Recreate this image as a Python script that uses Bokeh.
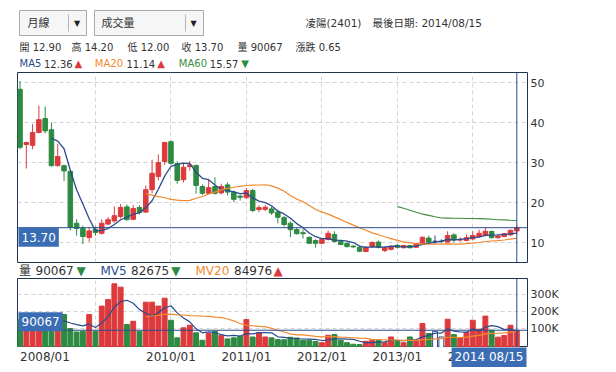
from bokeh.plotting import figure
from bokeh.layouts import column
from bokeh.models import Range1d, FixedTicker, Span, Label, ColumnDataSource
from bokeh.core.properties import value
from bokeh.embed import file_html
from bokeh.resources import INLINE

# ---------------- data (monthly candles 2008/01 .. 2014/08) ----------------
opens = [48.3, 34.5, 34.3, 37.5, 41.0, 38.2, 29.2, 29.2, 27.8, 14.8,
         13.5, 11.25, 13.3, 12.3, 14.6, 15.4, 16.5, 18.9, 15.8, 18.75,
         17.6, 23.2, 26.5, 30.25, 35.2, 29.7, 25.7, 29.0, 29.25, 24.0,
         22.3, 24.0, 22.4, 24.4, 22.6, 21.6, 21.2, 23.0, 18.25, 18.3,
         18.4, 17.6, 16.2, 14.8, 13.25, 12.45, 11.3, 10.5, 9.8, 10.75,
         12.0, 10.3, 9.8, 9.1, 8.8, 7.75, 9.0, 10.1, 8.0, 8.3,
         9.3, 8.7, 9.25, 8.8, 9.7, 11.1, 10.3, 10.3, 10.1, 11.9,
         10.6, 10.5, 10.9, 11.5, 11.75, 12.75, 11.2, 11.5, 11.9, 12.90]
highs = [50.4, 35.2, 39.6, 44.2, 44.0, 40.0, 34.6, 29.5, 28.0, 15.8,
         14.2, 13.75, 14.0, 15.8, 16.4, 19.0, 19.6, 19.5, 19.3, 19.3,
         24.25, 30.7, 32.0, 35.2, 35.5, 30.3, 30.0, 30.4, 29.5, 24.5,
         25.7, 26.3, 24.7, 25.0, 23.0, 22.0, 23.6, 23.4, 19.3, 19.4,
         19.0, 18.2, 16.6, 15.3, 13.7, 13.3, 11.5, 10.8, 11.0, 13.0,
         12.8, 10.6, 10.0, 9.3, 9.0, 9.0, 10.3, 10.5, 9.0, 9.3,
         9.6, 9.4, 9.4, 9.9, 11.5, 11.7, 11.75, 10.8, 12.8, 12.3,
         11.3, 12.0, 12.8, 13.2, 13.7, 13.0, 11.8, 12.4, 13.2, 14.20]
lows = [33.3, 28.5, 33.3, 37.3, 37.3, 29.0, 29.0, 25.4, 13.0, 11.7,
        9.6, 10.2, 11.7, 12.0, 14.4, 15.0, 16.0, 15.5, 15.6, 17.0,
        17.4, 22.3, 25.5, 29.4, 29.5, 24.7, 25.0, 28.0, 22.2, 21.9,
        22.0, 22.0, 22.0, 21.75, 20.1, 20.5, 21.0, 17.6, 17.6, 17.8,
        16.9, 14.8, 14.0, 11.3, 12.0, 11.0, 9.6, 8.7, 9.6, 10.5,
        10.0, 9.3, 8.7, 8.7, 7.6, 7.6, 8.8, 8.5, 7.6, 8.0,
        8.5, 8.5, 8.5, 8.6, 9.5, 9.8, 9.7, 9.8, 10.0, 10.1,
        10.2, 10.3, 10.6, 11.3, 11.5, 11.0, 10.9, 11.3, 11.7, 12.00]
closes = [33.8, 35.0, 37.5, 40.7, 37.9, 29.2, 31.5, 27.9, 13.8, 13.5,
          11.5, 12.9, 12.5, 14.8, 15.7, 16.7, 18.75, 15.7, 18.5, 17.5,
          23.2, 27.3, 30.0, 35.0, 29.8, 25.5, 28.8, 29.4, 24.25, 22.3,
          23.7, 22.3, 24.0, 22.6, 20.8, 21.3, 23.0, 18.0, 18.7, 18.8,
          17.4, 16.3, 14.5, 13.2, 12.2, 12.2, 9.8, 9.8, 10.75, 12.3,
          10.25, 9.5, 9.0, 8.9, 7.8, 8.8, 10.0, 8.8, 8.7, 9.0,
          8.8, 9.25, 8.7, 9.7, 11.3, 10.1, 10.3, 10.3, 11.75, 10.7,
          10.8, 11.2, 11.75, 12.3, 12.8, 11.2, 11.6, 12.2, 13.05, 13.70]
volumes = [150000, 150000, 150000, 160000, 130000, 120000, 130000, 181000, 100000, 80000,
           84000, 181000, 84000, 230000, 268000, 359000, 340000, 123000, 142000, 84000,
           253000, 253000, 230000, 276000, 148000, 46000, 104000, 119000, 75000, 32000,
           71000, 84000, 59000, 40000, 46000, 55000, 152000, 51000, 75000, 51000,
           46000, 36000, 35000, 49000, 45000, 32000, 32000, 25000, 18000, 61000,
           65000, 32000, 18000, 9000, 7000, 26000, 32000, 32000, 18000, 51000,
           26000, 18000, 51000, 32000, 129000, 71000, 84000, 51000, 154000, 65000,
           46000, 77000, 148000, 96000, 172000, 90000, 50000, 60000, 119000, 90067]

date_ticks = [0, 24, 36, 48, 60, 72]
date_labels = ["2008/01", "2010/01", "2011/01", "2012/01", "2013/01", "2014/01"]
year_ticks = [12, 24, 36, 48, 60, 72]
cursor_date = "2014 08/15"
stock_name = "凌陽(2401)"
last_date = "最後日期: 2014/08/15"
period_name = "月線"
indicator_name = "成交量"
price_ticks = [10, 20, 30, 40, 50]
volume_ticks = [100000, 200000, 300000]
volume_tick_labels = ["100K", "200K", "300K"]
ma_names = ["MA5", "MA20", "MA60"]
ma_periods = [5, 20, 60]
ma_last = [12.36, 11.14, 15.57]
ma_arrows = ["▲", "▲", "▼"]
mv_names = ["MV5", "MV20"]
mv_periods = [5, 20]
mv_last = [82675, 84976]
mv_arrows = ["▼", "▲"]
vol_arrow = "▼"

# ---------------- styles ----------------
FONT = "DejaVu Sans, Noto Sans CJK TC"
RED = "#dd3a3d"
GREEN = "#2e8a42"
NAVY = "#2a4c8e"
ORANGE = "#f2892f"
MGREEN = "#3e8e3e"
BOXBLUE = "#3a6db3"
TXT = "#333333"
GRID = "#d4d4d4"
OUTLINE = "#22334f"
W = 600
FL, FR = 17, 73          # frame spans page x 17 .. 527


def moving_average(vals, n):
    xs, ys = [], []
    for i in range(n, len(vals)):
        xs.append(i)
        ys.append(sum(vals[i - n + 1:i + 1]) / n)
    return xs, ys


def blank(h, xr, yr):
    f = figure(width=W, height=h, x_range=xr, y_range=yr, output_backend="svg",
               toolbar_location=None, min_border_left=FL, min_border_right=FR,
               min_border_top=0, min_border_bottom=0, outline_line_color=None,
               x_axis_location=None, y_axis_location=None)
    f.grid.visible = False
    f.background_fill_color = "white"
    f.border_fill_color = "white"
    return f


def txt(f, x, y, s, color=TXT, size="10px", align="left"):
    f.text(x=[x], y=[y], text=[s], text_color=color, text_font=value(FONT),
           text_font_size=size, text_baseline="middle", text_align=align)


def style_axis(f):
    for ax in f.yaxis:
        ax.major_tick_line_color = None
        ax.minor_tick_line_color = None
        ax.major_tick_out = 0
        ax.major_tick_in = 0
        ax.minor_tick_out = 0
        ax.minor_tick_in = 0
        ax.axis_line_color = None
        ax.major_label_standoff = 3
        ax.major_label_text_font = FONT
        ax.major_label_text_font_size = "11px"
        ax.major_label_text_color = TXT
    f.grid.grid_line_color = GRID
    f.grid.grid_line_dash = "4 3"


n = len(closes)
idx = list(range(n))
x_range = Range1d(-0.4, 80.7)
PAGE_X = Range1d(FL, W - FR)   # header rows use page pixel coordinates

# ---------------- header ----------------
head = blank(70, PAGE_X, Range1d(70, 0))
for (l, r, dv, arrow_x, label_x, label) in [(19, 86, 68, 76.5, 27, period_name),
                                          (94, 203, 185, 193, 101, indicator_name)]:
    head.quad(left=[l], right=[r], top=[10], bottom=[35],
              fill_color="#f6f6f6", line_color="#a9a9a9")
    head.segment(x0=[dv], y0=[14], x1=[dv], y1=[31], line_color="#b5b5b5")
    txt(head, arrow_x, 22.5, "▼", color="#222222", size="8px", align="center")
    txt(head, label_x, 22.5, label, size="11px")
txt(head, 305, 22.5, stock_name, size="10.5px")
txt(head, 372, 22.5, last_date, size="10.5px")

line2 = [("開", opens[-1]), ("高", highs[-1]), ("低", lows[-1]), ("收", closes[-1])]
xs2 = [19, 71, 127, 181]
for (nm, v), xx in zip(line2, xs2):
    txt(head, xx, 46.5, f"{nm} {v:.2f}")
txt(head, 237, 46.5, f"量 {volumes[-1]}")
txt(head, 295, 46.5, f"漲跌 {closes[-1] - closes[-2]:.2f}")

ma_colors = [NAVY, ORANGE, MGREEN]
ma_pos = [(19, 43.5, 74), (94.3, 126, 156.7), (178.3, 209.3, 240.7)]
for nm, val, arr, col, (x1, x2, x3) in zip(ma_names, ma_last, ma_arrows, ma_colors, ma_pos):
    txt(head, x1, 63, nm, color=col)
    txt(head, x2, 63, f"{val:.2f}")
    txt(head, x3, 63, arr, color=RED if arr == "▲" else GREEN)

# ---------------- price panel ----------------
price = figure(width=W, height=193, x_range=x_range, y_range=Range1d(5, 52.5),
               output_backend="svg", toolbar_location=None, y_axis_location="right",
               x_axis_location=None, min_border_left=FL, min_border_right=FR,
               min_border_top=2, min_border_bottom=1, outline_line_color=OUTLINE)
price.background_fill_color = "white"
price.border_fill_color = "white"
price.yaxis.ticker = FixedTicker(ticks=price_ticks)
price.ygrid.ticker = FixedTicker(ticks=price_ticks)
price.xgrid.ticker = FixedTicker(ticks=year_ticks)
style_axis(price)

colors = []
for o, c in zip(opens, closes):
    colors.append(RED if c > o else (GREEN if c < o else NAVY))
csrc = ColumnDataSource(dict(x=idx, o=opens, h=highs, l=lows, c=closes,
                             top=[max(o, c) for o, c in zip(opens, closes)],
                             bottom=[min(o, c) for o, c in zip(opens, closes)],
                             color=colors))
price.segment(x0="x", y0="l", x1="x", y1="h", line_color="color", line_width=1, source=csrc)
price.vbar(x="x", top="top", bottom="bottom", width=0.72, fill_color="color",
           line_color="color", line_width=1, source=csrc)

for per, col, lw in zip(ma_periods, ma_colors, [1.3, 1.2, 1.1]):
    mx, my = moving_average(closes, per)
    price.line(mx, my, line_color=col, line_width=lw)

price.add_layout(Span(location=closes[-1], dimension="width", line_color=NAVY, line_width=1))
price.add_layout(Span(location=idx[-1], dimension="height", line_color=NAVY, line_width=1))
price.add_layout(Label(x=-0.4, y=closes[-1], text=f"{closes[-1]:.2f}", text_align="left",
                       text_baseline="top", text_color="white", text_font=FONT,
                       text_font_size="12px", background_fill_color=BOXBLUE,
                       padding=dict(left=3, right=3, top=5, bottom=5), x_offset=1))

# ---------------- volume legend ----------------
VO = 263
vleg = blank(14, PAGE_X, Range1d(VO + 14, VO))
vy = 270
txt(vleg, 18.5, vy, "量", size="12px")
txt(vleg, 35, vy, f"{volumes[-1]}", size="12px")
txt(vleg, 76, vy, vol_arrow, color=GREEN if vol_arrow == "▼" else RED, size="12px")
mv_colors = [NAVY, ORANGE]
mv_pos = [(100, 130.5, 170.7), (195, 233.5, 273)]
for nm, val, arr, col, (x1, x2, x3) in zip(mv_names, mv_last, mv_arrows, mv_colors, mv_pos):
    txt(vleg, x1, vy, nm, color=col, size="12px")
    txt(vleg, x2, vy, f"{val}", size="12px")
    txt(vleg, x3, vy, arr, color=RED if arr == "▲" else GREEN, size="12px")

# ---------------- volume panel ----------------
VMIN = -10000
vol = figure(width=W, height=70, x_range=x_range, y_range=Range1d(VMIN, 390000),
             output_backend="svg", toolbar_location=None, y_axis_location="right",
             x_axis_location=None, min_border_left=FL, min_border_right=FR,
             min_border_top=1, min_border_bottom=0, outline_line_color=OUTLINE)
vol.background_fill_color = "white"
vol.border_fill_color = "white"
vol.yaxis.ticker = FixedTicker(ticks=volume_ticks)
vol.yaxis.major_label_overrides = {t: s for t, s in zip(volume_ticks, volume_tick_labels)}
vol.ygrid.ticker = FixedTicker(ticks=volume_ticks)
vol.xgrid.ticker = FixedTicker(ticks=year_ticks)
style_axis(vol)

vfill = [c if c != NAVY else "white" for c in colors]
vsrc = ColumnDataSource(dict(x=idx, v=volumes, fill=vfill, line=colors))
vol.vbar(x="x", top="v", bottom=VMIN, width=0.78, fill_color="fill", line_color="line",
         line_width=1, source=vsrc)
for per, col in zip(mv_periods, mv_colors):
    mx, my = moving_average(volumes, per)
    vol.line(mx, my, line_color=col, line_width=1.2)
vol.add_layout(Span(location=volumes[-1], dimension="width", line_color=NAVY, line_width=1))
vol.add_layout(Span(location=idx[-1], dimension="height", line_color=NAVY, line_width=1))
vol.add_layout(Label(x=-0.4, y=volumes[-1], text=f"{volumes[-1]}", text_align="left",
                     text_baseline="bottom", text_color="white", text_font=FONT,
                     text_font_size="12px", background_fill_color=BOXBLUE,
                     padding=dict(left=3, right=3, top=5, bottom=5), x_offset=1,
                     y_offset=-1))

# ---------------- date axis ----------------
dates = blank(20, x_range, Range1d(20, 0))
dates.text(x=date_ticks[:1], y=[9.5], text=date_labels[:1], text_color=TXT,
           text_font=value(FONT), text_font_size="12px", text_baseline="middle",
           text_align="left")
dates.text(x=date_ticks[1:], y=[9.5] * (len(date_ticks) - 1), text=date_labels[1:],
           text_color=TXT, text_font=value(FONT), text_font_size="12px",
           text_baseline="middle", text_align="center")
dates.add_layout(Label(x=80.7, y=9.5, text=cursor_date, text_align="right",
                       text_baseline="middle", text_color="white", text_font=FONT,
                       text_font_size="12px", background_fill_color=BOXBLUE,
                       padding=3, x_offset=-1))

layout = column(head, price, vleg, vol, dates, spacing=0)
open("out.html", "w").write(file_html(layout, INLINE))
